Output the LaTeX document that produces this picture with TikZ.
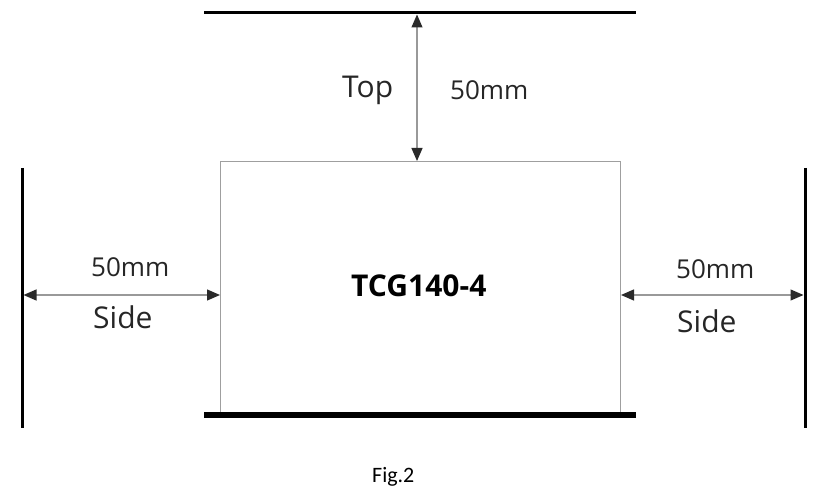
\documentclass[tikz,border=0pt]{standalone}
\usepackage{fontspec}
\setmainfont{Open Sans}
\newfontfamily\figfont{Carlito}
\usetikzlibrary{arrows.meta}
\definecolor{dimgray}{HTML}{999999}
\definecolor{tipgray}{HTML}{2A2A2A}
\tikzset{
  wall/.style={line width=3pt, black},
  basewall/.style={line width=6pt, black},
  dimline/.style={draw=dimgray, line width=1.2pt,
    {Triangle[length=13pt,width=11pt,fill=tipgray,color=tipgray]}-{Triangle[length=13pt,width=11pt,fill=tipgray,color=tipgray]}},
  lbl/.style={anchor=base west, inner sep=0pt, text=black!85},
  unit/.style={lbl, font=\fontsize{26}{30}\selectfont},
  word/.style={lbl, font=\fontsize{30}{34}\selectfont},
}
\begin{document}
\begin{tikzpicture}[x=1pt,y=-1pt]
\useasboundingbox (0,0) rectangle (827,494);
% walls
\draw[wall] (204,13) coordinate (tl) -- (636,13) coordinate (tr);
\draw[wall] (22,168) coordinate (lt) -- (22,428) coordinate (lb);
\draw[wall] (805,168) coordinate (rt) -- (805,428) coordinate (rb);
% box
\node[draw=gray!75, line width=1pt, minimum width=400pt, minimum height=252pt, inner sep=0pt, anchor=north west] (box) at (220,161) {};
\draw[basewall] (204,415) coordinate (bl) -- (636,415) coordinate (br);
% dimension anchors
\coordinate (topwall) at (417,14.5);
\coordinate (lwall) at (23.5,295);
\coordinate (rwall) at (803.5,295);
\draw[dimline] (topwall) -- (box.north -| topwall);
\draw[dimline] (lwall) -- (box.west |- lwall);
\draw[dimline] (box.east |- rwall) -- (rwall);
% labels
\node[word] (top) at (342,98) {Top};
\node[unit] (topmm) at (450,100) {50mm};
\node[unit] (lmm) at (91,277) {50mm};
\node[word] (lside) at (93,328) {Side};
\node[unit] (rmm) at (676,279) {50mm};
\node[word] (rside) at (677,332) {Side};
\node[lbl, font=\fontsize{30}{34}\selectfont\bfseries, text=black] (name) at (351,297) {TCG140-4};
\node[lbl, font=\figfont\fontsize{22}{26}\selectfont, text=black] (fig) at (372,482) {Fig.2};
\end{tikzpicture}
\end{document}
